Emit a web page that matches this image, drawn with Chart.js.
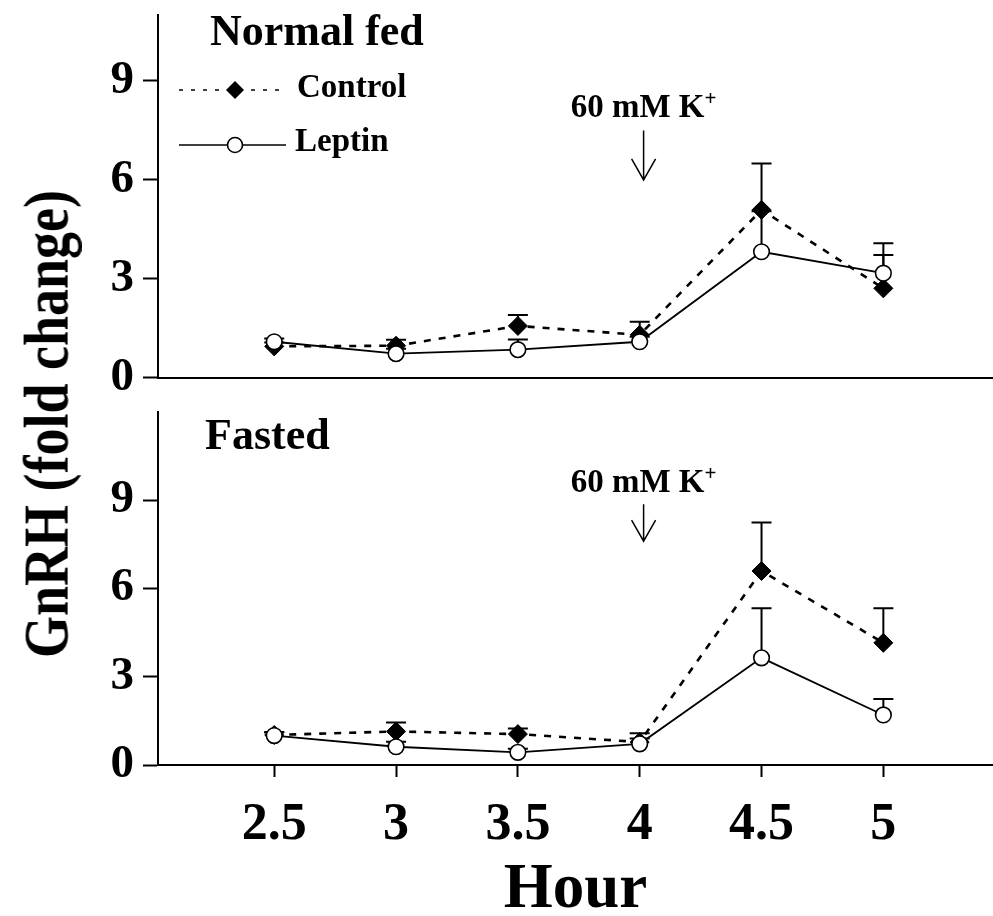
<!DOCTYPE html>
<html>
<head>
<meta charset="utf-8">
<script src="https://cdn.jsdelivr.net/npm/chart.js@4.4.1/dist/chart.umd.min.js"></script>
<style>
  html, body { margin: 0; padding: 0; background: #fff; }
  #wrap { position: relative; width: 993px; height: 916px; overflow: hidden; background: #fff; }
  #fedCanvas { position: absolute; left: 0; top: 0; }
  #fastedCanvas { position: absolute; left: 0; top: 395px; }
  #ytitle {
    position: absolute; left: -255px; top: 394px; width: 600px; height: 60px;
    line-height: 60px; text-align: center; white-space: nowrap; color: #000;
    font: bold 54px "Liberation Serif", "Times New Roman", serif;
    transform: rotate(-90deg) scaleY(1.18); transform-origin: 50% 50%;
  }
</style>
</head>
<body>
<div id="wrap">
  <canvas id="fedCanvas" width="993" height="395"></canvas>
  <canvas id="fastedCanvas" width="993" height="521"></canvas>
  <div id="ytitle">GnRH (fold change)</div>
</div>
<script>
// Sampling times (hours) and their axis labels
const hours = [2.5, 3, 3.5, 4, 4.5, 5];
const hourTickLabels = ['2.5', '3', '3.5', '4', '4.5', '5'];
const yTickValues = [0, 3, 6, 9];

// Normal fed: GnRH release (fold change) and SEM
const fedControl      = [0.95, 0.97, 1.57, 1.30, 5.09, 2.71];
const fedControlSem   = [0.12, 0.18, 0.33, 0.40, 1.41, 1.37];
const fedLeptin       = [1.09, 0.73, 0.85, 1.09, 3.82, 3.17];
const fedLeptinSem    = [0.10, 0.15, 0.31, 0.15, 1.23, 0.55];

// Fasted: GnRH release (fold change) and SEM
const fastedControl    = [1.02, 1.14, 1.05, 0.78, 6.59, 4.15];
const fastedControlSem = [0.10, 0.30, 0.19, 0.30, 1.65, 1.17];
const fastedLeptin     = [1.00, 0.62, 0.43, 0.72, 3.64, 1.70];
const fastedLeptinSem  = [0.10, 0.17, 0.12, 0.18, 1.68, 0.54];

// K+ stimulus given at 4 h
const stimulusHour = 4.016;

const SERIF = '"Liberation Serif", "Times New Roman", serif';

function points(values) {
  return hours.map((h, i) => ({ x: h, y: values[i] }));
}

function controlSet(values, sem) {
  return {
    label: 'Control', data: points(values), sem: sem, order: 2,
    borderColor: '#000', borderWidth: 2.6, borderDash: [7, 8],
    pointStyle: 'rectRot', pointRadius: 9.5, pointBackgroundColor: '#000',
    pointBorderColor: '#000', pointBorderWidth: 1, tension: 0
  };
}
function leptinSet(values, sem) {
  return {
    label: 'Leptin', data: points(values), sem: sem, order: 1,
    borderColor: '#000', borderWidth: 1.8,
    pointStyle: 'circle', pointRadius: 7.8, pointBackgroundColor: '#fff',
    pointBorderColor: '#000', pointBorderWidth: 1.6, tension: 0
  };
}

function drawDiamond(ctx, x, y, r) {
  ctx.beginPath();
  ctx.moveTo(x, y - r); ctx.lineTo(x + r, y); ctx.lineTo(x, y + r); ctx.lineTo(x - r, y);
  ctx.closePath(); ctx.fillStyle = '#000'; ctx.fill();
}
function drawCircle(ctx, x, y, r) {
  ctx.beginPath(); ctx.arc(x, y, r, 0, Math.PI * 2);
  ctx.fillStyle = '#fff'; ctx.fill();
  ctx.lineWidth = 1.6; ctx.strokeStyle = '#000'; ctx.stroke();
}

// Error bars, panel caption, K+ arrow and legend
const panelDecor = {
  id: 'panelDecor',
  beforeDatasetsDraw(chart) {
    const ctx = chart.ctx, xs = chart.scales.x, ys = chart.scales.y;
    ctx.save();
    ctx.strokeStyle = '#000'; ctx.lineWidth = 2; ctx.setLineDash([]);
    chart.data.datasets.forEach(ds => {
      ds.sem.forEach((s, i) => {
        const px = xs.getPixelForValue(ds.data[i].x);
        const y0 = ys.getPixelForValue(ds.data[i].y);
        const y1 = ys.getPixelForValue(ds.data[i].y + s);
        ctx.beginPath();
        ctx.moveTo(px, y0); ctx.lineTo(px, y1);
        ctx.moveTo(px - 10, y1); ctx.lineTo(px + 10, y1);
        ctx.stroke();
      });
    });
    ctx.restore();
  },
  afterDraw(chart, args, opts) {
    const ctx = chart.ctx, xs = chart.scales.x, ys = chart.scales.y;
    const area = chart.chartArea;
    ctx.save();
    ctx.fillStyle = '#000';
    ctx.textBaseline = 'alphabetic';

    // panel caption
    ctx.font = `bold ${opts.captionSize}px ${SERIF}`;
    ctx.textAlign = 'left';
    ctx.fillText(opts.caption, area.left + opts.captionDx, area.top + opts.captionDy);

    // stimulus label and arrow
    const ax = xs.getPixelForValue(stimulusHour);
    const textY = ys.getPixelForValue(opts.labelY);
    const tail = ys.getPixelForValue(opts.tailY);
    const tip = ys.getPixelForValue(opts.tipY);
    ctx.font = `bold 33px ${SERIF}`;
    const main = '60 mM K';
    const wMain = ctx.measureText(main).width;
    ctx.font = `bold 21px ${SERIF}`;
    const wSup = ctx.measureText('+').width;
    const x0 = ax - (wMain + wSup) / 2;
    ctx.font = `bold 33px ${SERIF}`;
    ctx.fillText(main, x0, textY);
    ctx.font = `bold 21px ${SERIF}`;
    ctx.fillText('+', x0 + wMain, textY - 12);

    ctx.strokeStyle = '#000'; ctx.lineWidth = 1.5; ctx.setLineDash([]);
    ctx.beginPath();
    ctx.moveTo(ax, tail); ctx.lineTo(ax, tip);
    ctx.moveTo(ax - 12, tip - 21); ctx.lineTo(ax, tip); ctx.lineTo(ax + 12, tip - 21);
    ctx.stroke();

    // legend
    if (opts.legend) {
      const lx0 = 179, lx1 = 284, mx = 235;
      ctx.lineWidth = 1.6; ctx.setLineDash([4, 8]);
      ctx.beginPath(); ctx.moveTo(lx0, 90); ctx.lineTo(lx1, 90); ctx.stroke();
      ctx.setLineDash([]);
      drawDiamond(ctx, mx, 90, 9);
      ctx.beginPath(); ctx.moveTo(lx0, 145); ctx.lineTo(lx1 + 2, 145); ctx.stroke();
      drawCircle(ctx, mx, 145, 7.5);
      ctx.fillStyle = '#000';
      ctx.font = `bold 33px ${SERIF}`;
      ctx.textBaseline = 'middle';
      ctx.fillText('Control', 297, 88);
      ctx.fillText('Leptin', 295, 142);
    }
    ctx.restore();
  }
};

function yScale(max) {
  return {
    type: 'linear', min: 0, max: max,
    afterBuildTicks: axis => { axis.ticks = yTickValues.map(v => ({ value: v })); },
    afterFit: axis => {
      axis.width = 158;
      axis.paddingTop = 0; axis.paddingBottom = 0;
      axis.paddingLeft = 0; axis.paddingRight = 0;
    },
    ticks: { color: '#000', padding: 9, font: { family: SERIF, size: 47, weight: 'bold' } },
    grid: { drawOnChartArea: false, drawTicks: true, tickLength: 15, tickWidth: 2, tickColor: '#000' },
    border: { display: true, color: '#000', width: 2 }
  };
}

function xFit(height) {
  return axis => {
    axis.height = height;
    axis.paddingTop = 0; axis.paddingBottom = 0;
    axis.paddingLeft = 0; axis.paddingRight = 0;
  };
}

const baseOptions = {
  responsive: false, animation: false, events: [],
  plugins: { legend: { display: false }, tooltip: { enabled: false } }
};

// Normal fed panel
new Chart(document.getElementById('fedCanvas'), {
  type: 'line',
  data: { datasets: [controlSet(fedControl, fedControlSem), leptinSet(fedLeptin, fedLeptinSem)] },
  options: {
    ...baseOptions,
    layout: { autoPadding: false, padding: { top: 15, left: 0, right: 0, bottom: 0 } },
    scales: {
      x: {
        type: 'linear', min: 2.023, max: 5.45,
        afterFit: xFit(17.3),
        ticks: { display: false },
        grid: { drawOnChartArea: false, drawTicks: false },
        border: { display: true, color: '#000', width: 2 }
      },
      y: yScale(11)
    },
    plugins: {
      ...baseOptions.plugins,
      panelDecor: { caption: 'Normal fed', captionSize: 44, captionDx: 52, captionDy: 30,
                    labelY: 7.91, tailY: 7.5, tipY: 6.0, legend: true }
    }
  },
  plugins: [panelDecor]
});

// Fasted panel
new Chart(document.getElementById('fastedCanvas'), {
  type: 'line',
  data: { datasets: [controlSet(fastedControl, fastedControlSem), leptinSet(fastedLeptin, fastedLeptinSem)] },
  options: {
    ...baseOptions,
    layout: { autoPadding: false, padding: { top: 16.7, left: 0, right: 0, bottom: 0 } },
    scales: {
      x: {
        type: 'linear', min: 2.023, max: 5.45,
        afterBuildTicks: axis => { axis.ticks = hours.map(v => ({ value: v })); },
        afterFit: xFit(151),
        ticks: {
          color: '#000', padding: 17, maxRotation: 0, autoSkip: false,
          font: { family: SERIF, size: 52, weight: 'bold' },
          callback: v => hourTickLabels[hours.indexOf(v)]
        },
        grid: { drawOnChartArea: false, drawTicks: true, tickLength: 12, tickWidth: 2, tickColor: '#000' },
        border: { display: true, color: '#000', width: 2 },
        title: { display: true, text: 'Hour', color: '#000', padding: 0,
                 font: { family: SERIF, size: 63, weight: 'bold', lineHeight: 0.8 } }
      },
      y: yScale(12)
    },
    plugins: {
      ...baseOptions.plugins,
      panelDecor: { caption: 'Fasted', captionSize: 44, captionDx: 47, captionDy: 37,
                    labelY: 9.27, tailY: 8.86, tipY: 7.6, legend: false }
    }
  },
  plugins: [panelDecor]
});
</script>
</body>
</html>
